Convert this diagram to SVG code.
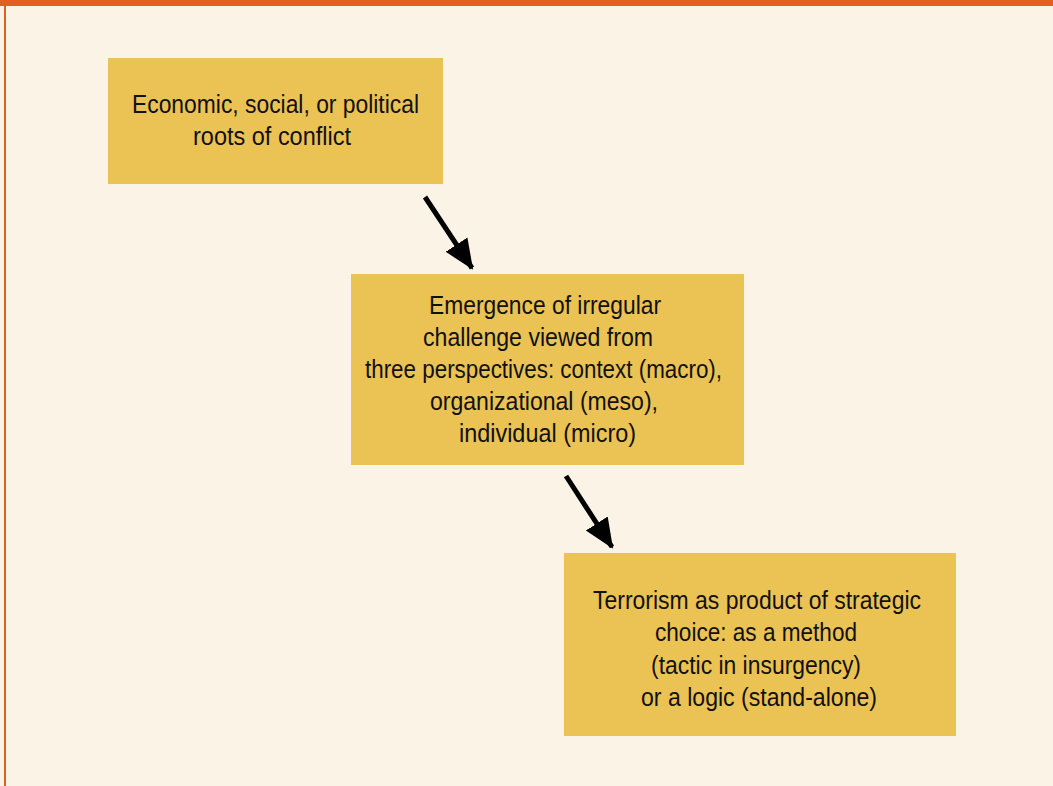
<svg xmlns="http://www.w3.org/2000/svg" width="1053" height="786" viewBox="0 0 1053 786">
<style>
.box{fill:#EBC254}
.t{font-family:"Liberation Sans",Arial,sans-serif;font-size:26px;fill:#111;text-anchor:middle}
.c{stroke:#000;stroke-width:5;fill:none}
</style>
<defs>
<marker id="ah" markerUnits="userSpaceOnUse" markerWidth="30" markerHeight="30" viewBox="0 0 30 30" refX="28" refY="15" orient="auto">
<path d="M0,2 L30,15 L0,28 Z" fill="#000"/>
</marker>
</defs>
<rect x="0" y="0" width="1053" height="786" fill="#FBF3E6"/>
<rect x="0" y="0" width="1053" height="6" fill="#E0601F"/>
<rect x="4" y="0" width="2" height="786" fill="#E0601F"/>
<g id="node1">
<rect class="box" x="108" y="58" width="335" height="126"/>
<text class="t" x="275.5" y="113" textLength="287" lengthAdjust="spacingAndGlyphs">Economic, social, or political</text>
<text class="t" x="272" y="145" textLength="158" lengthAdjust="spacingAndGlyphs">roots of conflict</text>
</g>
<g id="node2">
<rect class="box" x="351" y="274" width="393" height="191"/>
<text class="t" x="545" y="314" textLength="232" lengthAdjust="spacingAndGlyphs">Emergence of irregular</text>
<text class="t" x="538" y="346" textLength="230" lengthAdjust="spacingAndGlyphs">challenge viewed from</text>
<text class="t" x="543.5" y="378" textLength="357" lengthAdjust="spacingAndGlyphs">three perspectives: context (macro),</text>
<text class="t" x="544" y="410" textLength="228" lengthAdjust="spacingAndGlyphs">organizational (meso),</text>
<text class="t" x="547.5" y="442" textLength="177" lengthAdjust="spacingAndGlyphs">individual (micro)</text>
</g>
<g id="node3">
<rect class="box" x="564" y="553" width="392" height="183"/>
<text class="t" x="757" y="609" textLength="328" lengthAdjust="spacingAndGlyphs">Terrorism as product of strategic</text>
<text class="t" x="756" y="641" textLength="202" lengthAdjust="spacingAndGlyphs">choice: as a method</text>
<text class="t" x="756" y="674" textLength="210" lengthAdjust="spacingAndGlyphs">(tactic in insurgency)</text>
<text class="t" x="759" y="706" textLength="236" lengthAdjust="spacingAndGlyphs">or a logic (stand-alone)</text>
</g>
<g id="connectors">
<line class="c" x1="425" y1="197" x2="472" y2="268" marker-end="url(#ah)"/>
<line class="c" x1="566" y1="476" x2="612" y2="547" marker-end="url(#ah)"/>
</g>
</svg>
